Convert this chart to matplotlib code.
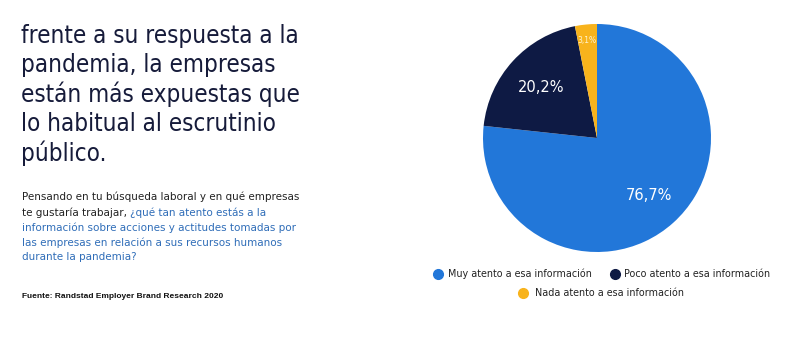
import matplotlib
matplotlib.use("Agg")
import matplotlib.pyplot as plt
import numpy as np

categories = ["Muy atento a esa información", "Poco atento a esa información", "Nada atento a esa información"]
values = [76.7, 20.2, 3.1]
colors = ["#2277D9", "#0E1A44", "#F8B31C"]
label_dist = [0.68, 0.66, 0.86]
label_sizes = [10.5, 10.5, 5.5]

headline = ["frente a su respuesta a la", "pandemia, la empresas", "están más expuestas que",
            "lo habitual al escrutinio", "público."]
source = "Fuente: Randstad Employer Brand Research 2020"

W, H = 790, 346
fig = plt.figure(figsize=(W / 100, H / 100), dpi=100)
fig.patch.set_facecolor("white")

def fx(x):
    return x / W

def fy(y):
    return 1 - y / H

# Headline
for i, line in enumerate(headline):
    fig.text(fx(21), fy(36 + i * 29.3), line, fontsize=17.4, color="#161B3A",
             family="DejaVu Sans", fontstretch="condensed", va="center", ha="left")

# Paragraph with two colors
dark = "#222222"
blue = "#2F6DB8"
fs = 7.5
py = [197, 212.5, 227.5, 242.5, 257.5]
fig.text(fx(22), fy(py[0]), "Pensando en tu búsqueda laboral y en qué empresas", fontsize=fs,
         color=dark, va="center")
t = fig.text(fx(22), fy(py[1]), "te gustaría trabajar, ", fontsize=fs, color=dark, va="center")
fig.canvas.draw()
bb = t.get_window_extent()
fig.text(bb.x1 / W, fy(py[1]), "¿qué tan atento estás a la", fontsize=fs, color=blue, va="center")
for yy, line in zip(py[2:], ["información sobre acciones y actitudes tomadas por",
                             "las empresas en relación a sus recursos humanos",
                             "durante la pandemia?"]):
    fig.text(fx(22), fy(yy), line, fontsize=fs, color=blue, va="center")

fig.text(fx(22), fy(297), source, fontsize=6.0, color="#111111", fontweight="bold",
         family="Liberation Sans", va="center")

# Pie
cx, cy, r = 597, 138, 114
ax = fig.add_axes([fx(cx - r), fy(cy + r), 2 * r / W, 2 * r / H])
wedges, _ = ax.pie(values, colors=colors, startangle=90, counterclock=False, radius=1,
                   wedgeprops=dict(linewidth=0))
ax.set_xlim(-1, 1)
ax.set_ylim(-1, 1)
ax.set_aspect("auto")
ax.axis("off")
for w, v, d, s in zip(wedges, values, label_dist, label_sizes):
    ang = np.deg2rad((w.theta1 + w.theta2) / 2)
    ax.text(d * np.cos(ang), d * np.sin(ang), f"{v:.1f}%".replace(".", ","),
            ha="center", va="center", color="white" if s > 8 else "#FFF3D0", fontsize=s)

# Legend
leg_font = 6.9
def legend_item(x, tx, y, color, label):
    fig.lines.append(plt.Line2D([fx(x)], [fy(y)], marker="o", markersize=7, color=color,
                                linestyle="none", transform=fig.transFigure))
    fig.text(fx(tx), fy(y), label, fontsize=leg_font, color="#222222", va="center")

legend_item(438, 448, 274, colors[0], categories[0])
legend_item(615, 624, 274, colors[1], categories[1])
legend_item(523, 535, 293, colors[2], categories[2])

fig.savefig("out.png", dpi=100, facecolor="white")
